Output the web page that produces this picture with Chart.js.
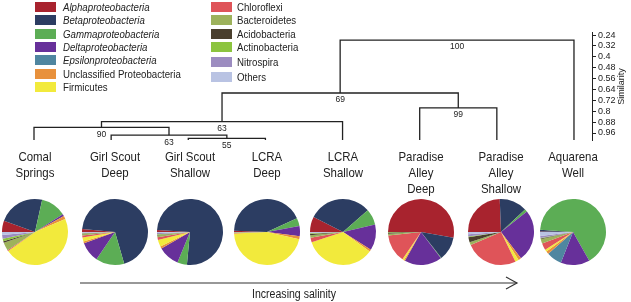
<!DOCTYPE html>
<html>
<head>
<meta charset="utf-8">
<script src="https://cdn.jsdelivr.net/npm/chart.js@4.4.0/dist/chart.umd.min.js"></script>
<style>
  body { margin: 0; width: 631px; height: 302px; background: #fff; position: relative; overflow: hidden;
         font-family: "Liberation Sans", Arial, sans-serif; color: #222; }
  canvas { position: absolute; }
  .sw { position: absolute; width: 21px; height: 10px; }
  .lg { position: absolute; font-size: 11px; line-height: 12px; white-space: nowrap;
        transform: scaleX(.88); transform-origin: left center; }
  .site { position: absolute; width: 100px; text-align: center; font-size: 13px; line-height: 16px;
          white-space: pre-line; transform: scaleX(.88); }
  #salinity { position: absolute; left: 244px; top: 287px; width: 100px; text-align: center;
              font-size: 12px; transform: scaleX(.88); white-space: nowrap; }
  svg { position: absolute; left: 0; top: 0; }
</style>
</head>
<body>
<canvas id="tree" width="631" height="200" style="left:0;top:0"></canvas>
<div id="legend"></div>
<div id="sites"></div>
<svg width="631" height="302">
  <line x1="80" y1="283" x2="517" y2="283" stroke="#333" stroke-width="1.2"/>
  <polyline points="506,277 517,283 506,289" fill="none" stroke="#333" stroke-width="1.2"/>
</svg>
<div id="salinity">Increasing salinity</div>

<script>
// taxa and colours
const groups = ['Alphaproteobacteria', 'Betaproteobacteria', 'Gammaproteobacteria', 'Deltaproteobacteria',
  'Epsilonproteobacteria', 'Unclassified Proteobacteria', 'Firmicutes', 'Chloroflexi', 'Bacteroidetes',
  'Acidobacteria', 'Actinobacteria', 'Nitrospira', 'Others'];
const groupColors = ['#a8232e', '#2c3d62', '#5cad55', '#67309a', '#4f86a0', '#e8913c', '#f2ea3c',
  '#df5459', '#9db25b', '#4a3f2e', '#8cc43f', '#9c8cc0', '#b9c3e3'];

// sites (leaves of the tree, left to right)
const sites = ['Comal\nSprings', 'Girl Scout\nDeep', 'Girl Scout\nShallow', 'LCRA\nDeep', 'LCRA\nShallow',
  'Paradise\nAlley\nDeep', 'Paradise\nAlley\nShallow', 'Aquarena\nWell'];

// community composition, % per group (same order as groups)
const comal       = [5.5, 23, 12.5, 1, 0, 1.5, 46.7, 0.5, 4, 0.8, 1.2, 1.8, 1.5];
const gsDeep      = [1.5, 69, 14, 10, 0, 0.8, 2, 1, 0.6, 0.3, 0.2, 0.3, 0.3];
const gsShallow   = [1, 75.5, 4.7, 10.5, 0, 1.1, 3.3, 1.4, 0.8, 0.3, 0.3, 0.6, 0.5];
const lcraDeep    = [0.6, 42.5, 4, 5, 0, 1.4, 45.8, 0.2, 0.2, 0.1, 0.1, 0.05, 0.05];
const lcraShallow = [7.5, 31, 7.8, 12.7, 0, 1, 35, 2.2, 1.2, 0.6, 0.4, 0.3, 0.3];
const paDeep      = [52.8, 11.6, 0.3, 18.4, 0, 0.6, 0.8, 13.8, 0.8, 0.6, 0.3, 0, 0];
const paShallow   = [24.4, 13.6, 1.4, 25.3, 0, 1.4, 1.7, 25.8, 1.4, 2.5, 0.3, 1.1, 1.1];
const aquarena    = [0.3, 0.8, 65.7, 14.2, 7.5, 1.4, 1.1, 3.3, 2.2, 0.4, 0.2, 1, 1.9];
const composition = [comal, gsDeep, gsShallow, lcraDeep, lcraShallow, paDeep, paShallow, aquarena];

// cluster merges: children (0-7 leaves, 8+ earlier merges), similarity, bootstrap
const mergeA = [2, 1, 0, 10, 5, 11, 13];
const mergeB = [3, 8, 9, 4, 6, 12, 7];
const mergeSim = [0.999, 0.976, 0.918, 0.877, 0.776, 0.666, 0.277];
const mergeSupport = [55, 63, 90, 63, 99, 69, 100];
const leafSim = 1.012;
const simTicks = [0.24, 0.32, 0.4, 0.48, 0.56, 0.64, 0.72, 0.8, 0.88, 0.96];

// layout
const colX = [35, 115, 190, 267, 343, 421, 501, 573];
const pieY = 232, pieSize = 68;
const leaf0Px = 34, leafStepPx = 77.14, plotRight = 592;

Chart.defaults.font.family = '"Liberation Sans", Arial, sans-serif';
Chart.defaults.color = '#222';

// legend
const legend = document.getElementById('legend');
groups.forEach((g, i) => {
  const col = i < 7 ? 0 : 1, row = col ? i - 7 : i;
  const y = 2 + row * 13.3 + (col && row > 3 ? 1.5 * (row - 3) : 0);
  const sx = col ? 211 : 35, tx = col ? 237 : 63;
  legend.insertAdjacentHTML('beforeend',
    `<div class="sw" style="left:${sx}px;top:${y}px;background:${groupColors[i]}"></div>
     <div class="lg" style="left:${tx}px;top:${y - 1}px;${/^[A-Z][a-z]+proteobacteria$/.test(g) ? 'font-style:italic' : ''}">${g}</div>`);
});

// site labels
const siteDiv = document.getElementById('sites');
sites.forEach((s, i) => {
  siteDiv.insertAdjacentHTML('beforeend', `<div class="site" style="left:${colX[i] - 50}px;top:149px">${s}</div>`);
});

// dendrogram node positions
const nodeX = [], nodeY = [];
sites.forEach((s, i) => { nodeX.push(i); nodeY.push(leafSim); });
mergeA.forEach((a, k) => {
  const b = mergeB[k];
  nodeX.push((nodeX[a] + nodeX[b]) / 2);
  nodeY.push(mergeSim[k]);
});
const treeSets = mergeA.map((a, k) => {
  const b = mergeB[k];
  return {
    data: [
      { x: nodeX[a], y: nodeY[a] }, { x: nodeX[a], y: mergeSim[k] },
      { x: nodeX[b], y: mergeSim[k] }, { x: nodeX[b], y: nodeY[b] }
    ],
    showLine: true, borderColor: '#222', borderWidth: 1.3, pointRadius: 0, tension: 0, clip: false
  };
});

const supportLabels = {
  id: 'supportLabels',
  afterDatasetsDraw(chart) {
    const { ctx, scales: { x, y } } = chart;
    ctx.save();
    ctx.fillStyle = '#222';
    ctx.font = '8.5px "Liberation Sans", Arial, sans-serif';
    ctx.textAlign = 'center';
    ctx.textBaseline = 'middle';
    mergeSupport.forEach((s, k) => {
      ctx.fillText(String(s), x.getPixelForValue(nodeX[8 + k]), y.getPixelForValue(mergeSim[k]) + 7);
    });
    // axis title, reading bottom to top
    ctx.translate(622, (chart.chartArea.top + chart.chartArea.bottom) / 2);
    ctx.rotate(-Math.PI / 2);
    ctx.font = '9px "Liberation Sans", Arial, sans-serif';
    ctx.fillText('Similarity', 0, 0);
    ctx.restore();
  }
};

const xMin = -leaf0Px / leafStepPx;
new Chart(document.getElementById('tree'), {
  type: 'scatter',
  data: { datasets: treeSets },
  plugins: [supportLabels],
  options: {
    responsive: false,
    animation: false,
    devicePixelRatio: 1,
    layout: { padding: { top: 32.3, bottom: 59.5, left: 0, right: 0 } },
    plugins: { legend: { display: false }, tooltip: { enabled: false } },
    scales: {
      x: { type: 'linear', display: false, min: xMin, max: xMin + plotRight / leafStepPx },
      y: {
        type: 'linear', position: 'right', reverse: true, min: 0.22, max: 1.015,
        afterBuildTicks: (scale) => { scale.ticks = simTicks.map(v => ({ value: v })); },
        afterFit: (scale) => { scale.width = 39; },
        ticks: { font: { size: 9 }, padding: 2, color: '#222', autoSkip: false, callback: v => String(v) },
        grid: { drawOnChartArea: false, drawTicks: true, tickLength: 4, color: '#222' },
        border: { display: true, color: '#222', width: 1 }
      }
    }
  }
});

// pies
composition.forEach((vals, i) => {
  const c = document.createElement('canvas');
  c.width = pieSize; c.height = pieSize;
  c.style.left = (colX[i] - pieSize / 2) + 'px';
  c.style.top = (pieY - pieSize / 2) + 'px';
  document.body.appendChild(c);
  new Chart(c, {
    type: 'pie',
    data: { labels: groups, datasets: [{ data: vals, backgroundColor: groupColors, borderWidth: 0 }] },
    options: {
      responsive: false,
      animation: false,
      devicePixelRatio: 1,
      rotation: -90,
      layout: { padding: 1 },
      plugins: { legend: { display: false }, tooltip: { enabled: false } }
    }
  });
});
</script>
</body>
</html>
